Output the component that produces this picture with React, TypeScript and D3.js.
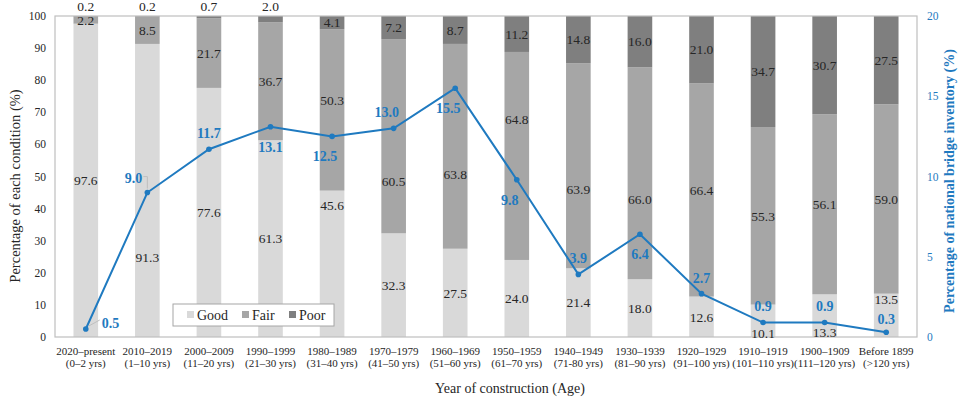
import React from 'react'
import { scaleBand, scaleLinear, line } from 'd3'

// chart data
const periods = [
  '2020–present', '2010–2019', '2000–2009', '1990–1999', '1980–1989', '1970–1979', '1960–1969',
  '1950–1959', '1940–1949', '1930–1939', '1920–1929', '1910–1919', '1900–1909', 'Before 1899',
]
const ages = [
  '(0–2 yrs)', '(1–10 yrs)', '(11–20 yrs)', '(21–30 yrs)', '(31–40 yrs)', '(41–50 yrs)', '(51–60 yrs)',
  '(61–70 yrs)', '(71-80 yrs)', '(81–90 yrs)', '(91–100 yrs)', '(101–110 yrs)', '(111–120 yrs)', '(>120 yrs)',
]
const good = [97.6, 91.3, 77.6, 61.3, 45.6, 32.3, 27.5, 24.0, 21.4, 18.0, 12.6, 10.1, 13.3, 13.5]
const fair = [2.2, 8.5, 21.7, 36.7, 50.3, 60.5, 63.8, 64.8, 63.9, 66.0, 66.4, 55.3, 56.1, 59.0]
const poor = [0.2, 0.2, 0.7, 2.0, 4.1, 7.2, 8.7, 11.2, 14.8, 16.0, 21.0, 34.7, 30.7, 27.5]
const inventory = [0.5, 9.0, 11.7, 13.1, 12.5, 13.0, 15.5, 9.8, 3.9, 6.4, 2.7, 0.9, 0.9, 0.3]
const leftTicks = [0, 10, 20, 30, 40, 50, 60, 70, 80, 90, 100]
const rightTicks = [0, 5, 10, 15, 20]

// where the blue labels sit around their point
const labelSide = [
  'right', 'left', 'above', 'below', 'below-left', 'above-left', 'below-left',
  'below-left', 'above', 'below', 'above', 'above', 'above', 'above',
]
// hand nudges of the value labels (px), like the dragged labels in the original
const goodNudge: Record<number, number> = { 1: 67, 4: -59, 11: 12, 12: 17, 13: -16 }
const fairNudge: Record<number, number> = { 4: -10, 5: 45, 6: 28, 7: -37, 8: 24, 9: 26 }

const W = 960
const H = 398
const margin = { left: 55, right: 43, top: 16, bottom: 61 }
const colors = { good: '#d9d9d9', fair: '#a6a6a6', poor: '#7f7f7f', blue: '#1f7ac0', frame: '#bfbfbf' }
const tf = { fontFamily: 'Liberation Serif' }

export default function App() {
  const x = scaleBand<string>()
    .domain(periods)
    .range([margin.left, W - margin.right])
    .paddingInner(0.6)
    .paddingOuter(0.3)
  const y = scaleLinear().domain([0, 100]).range([H - margin.bottom, margin.top])
  const yR = scaleLinear().domain([0, 20]).range([H - margin.bottom, margin.top])
  const bw = x.bandwidth()
  const cx = (i: number) => (x(periods[i]) as number) + bw / 2

  const pts: [number, number][] = inventory.map((v, i) => [cx(i), yR(v)])
  const path = line()(pts) || ''

  const plotL = margin.left
  const plotR = W - margin.right
  const plotT = margin.top
  const plotB = H - margin.bottom

  return (
    <svg width={W} height={H} style={{ position: 'absolute', left: 0, top: 0, background: '#fff' }}>
      {/* bars */}
      {periods.map((p, i) => {
        const x0 = x(p) as number
        return (
          <g key={p}>
            <rect x={x0} width={bw} y={y(good[i])} height={y(0) - y(good[i])} fill={colors.good} />
            <rect x={x0} width={bw} y={y(good[i] + fair[i])} height={y(good[i]) - y(good[i] + fair[i])} fill={colors.fair} />
            <rect x={x0} width={bw} y={y(100)} height={y(good[i] + fair[i]) - y(100)} fill={colors.poor} />
          </g>
        )
      })}

      {/* frame */}
      <rect x={plotL} y={plotT} width={plotR - plotL} height={plotB - plotT} fill="none" stroke={colors.frame} strokeWidth={1.2} />

      {/* value labels */}
      {periods.map((p, i) => {
        const gy = (y(0) + y(good[i])) / 2 + (goodNudge[i] || 0)
        const fy = (y(good[i]) + y(good[i] + fair[i])) / 2 + (fairNudge[i] || 0)
        const py = poor[i] < 3 ? y(100) - 10 : (y(good[i] + fair[i]) + y(100)) / 2
        return (
          <g key={'lbl' + p} fontSize={13.5} fill="#262626" textAnchor="middle">
            <text style={tf} x={cx(i)} y={gy} dy="0.35em">{good[i].toFixed(1)}</text>
            <text style={tf} x={cx(i)} y={fy} dy="0.35em">{fair[i].toFixed(1)}</text>
            <text style={tf} x={cx(i)} y={py} dy="0.35em">{poor[i].toFixed(1)}</text>
          </g>
        )
      })}

      {/* left axis */}
      {leftTicks.map((t) => (
        <text style={tf} key={'l' + t} x={plotL - 9} y={y(t)} dy="0.35em" textAnchor="end" fontSize={11.5} fill="#262626">
          {t}
        </text>
      ))}
      <text
        style={tf}
        transform={`translate(20,186) rotate(-90)`}
        textAnchor="middle"
        fontSize={14.5}
        fill="#262626"
      >
        Percentage of each condition (%)
      </text>

      {/* right axis */}
      {rightTicks.map((t) => (
        <text style={tf} key={'r' + t} x={plotR + 10} y={yR(t)} dy="0.35em" fontSize={11.5} fill={colors.blue}>
          {t}
        </text>
      ))}
      <text
        style={tf}
        transform={`translate(954,181) rotate(-90)`}
        textAnchor="middle"
        fontSize={14}
        fontWeight="bold"
        fill={colors.blue}
      >
        Percentage of national bridge inventory (%)
      </text>

      {/* x axis labels */}
      {periods.map((p, i) => (
        <text style={tf} key={'x' + p} x={cx(i)} y={plotB + 18} textAnchor="middle" fontSize={11} fill="#262626">
          <tspan x={cx(i)}>{p}</tspan>
          <tspan x={cx(i)} dy={12}>{ages[i]}</tspan>
        </text>
      ))}
      <text style={tf} x={(plotL + plotR) / 2 + 24} y={393} textAnchor="middle" fontSize={14} fill="#262626">
        Year of construction (Age)
      </text>

      {/* inventory line */}
      <path d={path} fill="none" stroke={colors.blue} strokeWidth={2} />
      {pts.map(([px, py], i) => (
        <circle key={'c' + i} cx={px} cy={py} r={2.8} fill={colors.blue} />
      ))}

      {/* leader lines for the first two labels */}
      <line x1={pts[0][0] + 3} y1={pts[0][1] - 3} x2={pts[0][0] + 14} y2={pts[0][1] - 9} stroke="#bfbfbf" strokeWidth={1} />
      <polyline
        points={`${pts[1][0] - 4},${pts[1][1] - 16} ${pts[1][0]},${pts[1][1] - 16} ${pts[1][0]},${pts[1][1] - 4}`}
        fill="none"
        stroke="#bfbfbf"
        strokeWidth={1}
      />

      {/* blue labels */}
      {pts.map(([px, py], i) => {
        const side = labelSide[i]
        let lx = px
        let ly = py
        let anchor = 'middle'
        if (side === 'right') {
          lx = px + 16
          ly = py - 6
          anchor = 'start'
        } else if (side === 'left') {
          lx = px - 5
          ly = py - 14
          anchor = 'end'
        } else if (side.startsWith('above')) {
          ly = py - (i === labelSide.length - 1 ? 13 : 16)
        } else {
          ly = py + 20
        }
        if (side.endsWith('-left')) lx -= 7
        return (
          <text
            style={tf}
            key={'b' + i}
            x={lx}
            y={ly}
            dy="0.35em"
            textAnchor={anchor}
            fontSize={14}
            fontWeight="bold"
            fill={colors.blue}
          >
            {inventory[i].toFixed(1)}
          </text>
        )
      })}

      {/* legend */}
      <g>
        <rect x={173} y={304} width={161} height={22} fill="#fff" stroke="#a6a6a6" strokeWidth={1} />
        {[
          { k: 'Good', c: colors.good, x: 187 },
          { k: 'Fair', c: colors.fair, x: 242 },
          { k: 'Poor', c: colors.poor, x: 289 },
        ].map((d) => (
          <g key={d.k}>
            <rect x={d.x} y={311} width={7} height={7} fill={d.c} />
            <text style={tf} x={d.x + 10} y={315} dy="0.35em" fontSize={14} fill="#262626">
              {d.k}
            </text>
          </g>
        ))}
      </g>
    </svg>
  )
}
